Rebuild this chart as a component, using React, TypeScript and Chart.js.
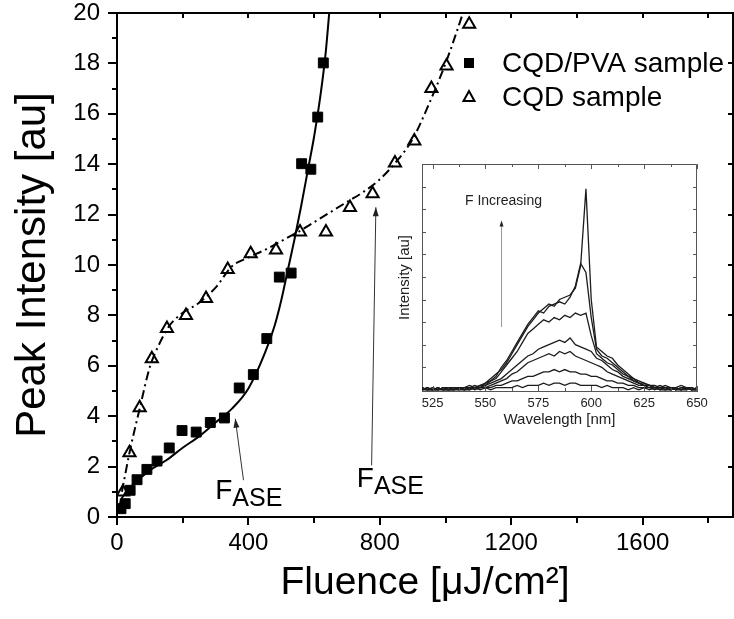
import React, { useEffect, useRef } from 'react';
import { Chart, registerables } from 'chart.js';

Chart.register(...registerables);

const FONT = '"Liberation Sans", Arial, Helvetica, sans-serif';

// ---------------- Main chart data ----------------
const seriesLabels = ['CQD/PVA sample', 'CQD sample'];

const pvaFluence = [12, 25, 40, 61, 91, 122, 159, 198, 241, 284, 327, 372, 415, 456, 494, 530, 562, 590, 611, 628];
const pvaIntensity = [0.33, 0.53, 1.06, 1.48, 1.89, 2.22, 2.74, 3.43, 3.37, 3.75, 3.93, 5.12, 5.65, 7.08, 9.52, 9.68, 14.02, 13.8, 15.87, 18.02];

const cqdFluence = [18, 38, 69, 106, 152, 210, 271, 337, 407, 484, 557, 636, 709, 778, 846, 905, 957, 1003, 1072];
const cqdIntensity = [0.99, 2.55, 4.34, 6.28, 7.48, 8.0, 8.67, 9.82, 10.45, 10.6, 11.31, 11.31, 12.28, 12.83, 14.05, 14.92, 17.0, 17.9, 19.55];

const pvaFitFluence = [4, 12, 25, 50, 100, 150, 200, 250, 300, 350, 400, 450, 480, 500, 520, 540, 560, 580, 600, 620, 635, 646];
const pvaFitIntensity = [0.2, 0.65, 0.95, 1.3, 1.85, 2.25, 2.75, 3.2, 3.75, 4.3, 5.1, 6.5, 7.6, 8.6, 9.8, 11.0, 12.3, 13.7, 15.1, 16.8, 18.4, 20];

const cqdFitFluence = [15, 38, 69, 100, 130, 160, 200, 250, 300, 350, 400, 450, 500, 550, 600, 650, 700, 750, 800, 850, 900, 950, 1000, 1030, 1053];
const cqdFitIntensity = [1.0, 2.55, 4.3, 5.95, 6.9, 7.6, 8.1, 8.5, 9.1, 9.95, 10.3, 10.6, 10.95, 11.3, 11.7, 12.1, 12.5, 12.9, 13.4, 14.1, 15.0, 16.4, 18.0, 19.1, 20];

const xTickLabels = [0, 400, 800, 1200, 1600];
const yTickLabels = [0, 2, 4, 6, 8, 10, 12, 14, 16, 18, 20];
const xTickMarks = [0, 200, 400, 600, 800, 1000, 1200, 1400, 1600, 1800];
const yTickMarks = [0, 1, 2, 3, 4, 5, 6, 7, 8, 9, 10, 11, 12, 13, 14, 15, 16, 17, 18, 19, 20];

// annotation anchors (data space)
const faseLabels = [
  { fx: 299, fy: 0.73, tailX: 385, tailY: 1.46, headX: 360, headY: 3.9 },
  { fx: 730, fy: 1.19, tailX: 775, tailY: 2.05, headX: 788, headY: 12.29 },
];

// ---------------- Inset data ----------------
const wavelength = [520, 522.5, 525, 527.5, 530, 532.5, 535, 537.5, 540, 542.5, 545, 547.5, 550, 552.5, 555, 557.5, 560, 562.5, 565, 567.5, 570, 572.5, 575, 577.5, 580, 582.5, 585, 587.5, 590, 592.5, 595, 597.5, 600, 602.5, 605, 607.5, 610, 612.5, 615, 617.5, 620, 622.5, 625, 627.5, 630, 632.5, 635, 637.5, 640, 642.5, 645, 647.5, 650];

const spectrum1 = [1, 0, 1, 0, 1, 1, 0, 1, 1, 2, 1, 2, 3, 5, 7, 9, 12, 16, 20, 24, 28, 31, 34, 36, 38, 37, 40, 41, 42, 45, 55, 89, 40, 19, 17, 15, 14, 11, 9, 7, 5, 4, 3, 2, 2, 1, 2, 1, 1, 2, 1, 0, 1];
const spectrum2 = [0, 1, 0, 1, 0, 1, 1, 0, 1, 1, 2, 1, 3, 4, 6, 10, 13, 17, 21, 25, 29, 32, 35, 34, 37, 38, 39, 38, 41, 46, 56, 52, 32, 18, 15, 14, 12, 10, 8, 6, 5, 3, 3, 2, 1, 2, 1, 1, 0, 1, 1, 1, 0];
const spectrum3 = [1, 0, 0, 1, 0, 0, 1, 1, 0, 1, 1, 2, 2, 4, 5, 8, 11, 14, 17, 21, 25, 27, 29, 31, 30, 32, 31, 33, 32, 34, 33, 34, 24, 16, 14, 12, 11, 9, 7, 6, 4, 3, 2, 2, 1, 1, 1, 0, 1, 0, 1, 0, 1];
const spectrum4 = [0, 1, 0, 0, 1, 0, 0, 1, 0, 1, 1, 1, 2, 3, 4, 5, 7, 9, 11, 13, 15, 16, 18, 19, 20, 21, 22, 21, 23, 20, 19, 18, 17, 14, 13, 11, 9, 8, 6, 5, 4, 3, 2, 2, 1, 1, 0, 1, 0, 1, 0, 1, 0];
const spectrum5 = [0, 0, 1, 0, 0, 1, 0, 0, 1, 0, 1, 1, 1, 2, 3, 4, 5, 7, 8, 10, 12, 13, 14, 15, 16, 15, 17, 16, 17, 15, 14, 13, 12, 11, 10, 8, 7, 6, 5, 4, 3, 2, 2, 1, 1, 0, 1, 0, 1, 0, 0, 1, 0];
const spectrum6 = [1, 0, 0, 1, 0, 0, 1, 0, 0, 1, 0, 1, 1, 1, 2, 2, 3, 4, 4, 5, 6, 6, 7, 8, 8, 9, 8, 9, 8, 8, 7, 7, 6, 6, 5, 4, 4, 3, 3, 2, 2, 1, 1, 1, 0, 1, 0, 0, 1, 0, 1, 0, 0];
const spectrum7 = [0, 1, 0, 0, 1, 0, 0, 1, 0, 0, 1, 0, 1, 0, 1, 1, 1, 1, 2, 1, 2, 2, 2, 3, 2, 3, 3, 2, 3, 3, 2, 2, 2, 2, 1, 2, 1, 1, 1, 0, 1, 0, 1, 0, 1, 0, 0, 1, 0, 0, 1, 0, 0];
const spectra = [spectrum1, spectrum2, spectrum3, spectrum4, spectrum5, spectrum6, spectrum7];

const insetTickLabels = [525, 550, 575, 600, 625, 650];
const insetXTickMarks = [525, 537.5, 550, 562.5, 575, 587.5, 600, 612.5, 625, 637.5, 650];
const insetYTickMarks = [10, 20, 30, 40, 50, 60, 70, 80, 90];
const insetArrow = { x: 557.6, fromY: 27.8, toY: 75, textX: 540.3, textY: 83.4 };

function pts(xs: number[], ys: number[]) {
  return xs.map((x, i) => ({ x, y: ys[i] }));
}

function arrowHead(ctx: CanvasRenderingContext2D, x1: number, y1: number, x2: number, y2: number, len: number, half: number) {
  const ang = Math.atan2(y2 - y1, x2 - x1);
  ctx.beginPath();
  ctx.moveTo(x2, y2);
  ctx.lineTo(x2 - len * Math.cos(ang) + half * Math.sin(ang), y2 - len * Math.sin(ang) - half * Math.cos(ang));
  ctx.lineTo(x2 - len * Math.cos(ang) - half * Math.sin(ang), y2 - len * Math.sin(ang) + half * Math.cos(ang));
  ctx.closePath();
  ctx.fill();
}

const mainDecor = {
  id: 'mainDecor',
  afterDraw(chart: any) {
    const { ctx, chartArea: a, scales } = chart;
    const x = scales.x;
    const y = scales.y;
    ctx.save();
    ctx.strokeStyle = '#000';
    ctx.lineWidth = 2;
    ctx.beginPath();
    ctx.moveTo(a.left, a.top);
    ctx.lineTo(a.right, a.top);
    ctx.lineTo(a.right, a.bottom);
    ctx.stroke();
    ctx.beginPath();
    xTickMarks.forEach((v) => {
      const px = Math.round(x.getPixelForValue(v));
      const major = xTickLabels.includes(v);
      ctx.moveTo(px, a.bottom);
      ctx.lineTo(px, a.bottom + (major ? 8 : 6));
      ctx.moveTo(px, a.top);
      ctx.lineTo(px, a.top + 5);
    });
    yTickMarks.forEach((v) => {
      const py = Math.round(y.getPixelForValue(v));
      const major = yTickLabels.includes(v);
      ctx.moveTo(a.left, py);
      ctx.lineTo(a.left - (major ? 9 : 5), py);
      if (major) {
        ctx.moveTo(a.right, py);
        ctx.lineTo(a.right - 5, py);
      }
    });
    ctx.stroke();

    // F_ASE annotations
    ctx.strokeStyle = '#333';
    ctx.lineWidth = 1;
    faseLabels.forEach((f) => {
      const tx = x.getPixelForValue(f.tailX);
      const ty = y.getPixelForValue(f.tailY);
      const hx = x.getPixelForValue(f.headX);
      const hy = y.getPixelForValue(f.headY);
      ctx.beginPath();
      ctx.moveTo(tx, ty);
      ctx.lineTo(hx, hy);
      ctx.stroke();
      ctx.fillStyle = '#222';
      arrowHead(ctx, tx, ty, hx, hy, 9, 3);
      const lx = x.getPixelForValue(f.fx);
      const ly = y.getPixelForValue(f.fy);
      ctx.fillStyle = '#000';
      ctx.textAlign = 'left';
      ctx.textBaseline = 'alphabetic';
      ctx.font = `28px ${FONT}`;
      ctx.fillText('F', lx, ly);
      const fw = ctx.measureText('F').width;
      ctx.font = `25px ${FONT}`;
      ctx.fillText('ASE', lx + fw, ly + 7);
    });

    // legend
    const lgX = a.right - 264;
    const rows = [a.top + 50, a.top + 84];
    ctx.font = `28px ${FONT}`;
    ctx.textBaseline = 'middle';
    ctx.textAlign = 'left';
    ctx.fillStyle = '#000';
    ctx.fillRect(lgX - 5, rows[0] - 5, 10, 10);
    ctx.beginPath();
    ctx.moveTo(lgX, rows[1] - 6);
    ctx.lineTo(lgX + 5.5, rows[1] + 4);
    ctx.lineTo(lgX - 5.5, rows[1] + 4);
    ctx.closePath();
    ctx.fillStyle = '#fff';
    ctx.fill();
    ctx.strokeStyle = '#000';
    ctx.lineWidth = 2;
    ctx.stroke();
    ctx.fillStyle = '#000';
    ctx.fillText(seriesLabels[0], lgX + 33, rows[0] + 1);
    ctx.fillText(seriesLabels[1], lgX + 33, rows[1] + 1);
    ctx.restore();
  },
};

const insetDecor = {
  id: 'insetDecor',
  afterDraw(chart: any) {
    const { ctx, chartArea: a, scales } = chart;
    const x = scales.x;
    const y = scales.y;
    ctx.save();
    ctx.strokeStyle = '#555';
    ctx.lineWidth = 1;
    ctx.beginPath();
    ctx.moveTo(a.left, a.top + 0.5);
    ctx.lineTo(a.right - 0.5, a.top + 0.5);
    ctx.lineTo(a.right - 0.5, a.bottom);
    ctx.stroke();
    ctx.beginPath();
    insetXTickMarks.forEach((v) => {
      const px = Math.round(x.getPixelForValue(v)) + 0.5;
      const major = insetTickLabels.includes(v);
      ctx.moveTo(px, a.bottom);
      ctx.lineTo(px, a.bottom - (major ? 5 : 3));
      ctx.moveTo(px, a.top);
      ctx.lineTo(px, a.top + (major ? 5 : 3));
    });
    insetYTickMarks.forEach((v) => {
      const py = Math.round(y.getPixelForValue(v)) + 0.5;
      ctx.moveTo(a.left, py);
      ctx.lineTo(a.left + 4, py);
      ctx.moveTo(a.right, py);
      ctx.lineTo(a.right - 4, py);
    });
    ctx.stroke();
    const ax = x.getPixelForValue(insetArrow.x);
    const ay1 = y.getPixelForValue(insetArrow.fromY);
    const ay2 = y.getPixelForValue(insetArrow.toY);
    ctx.strokeStyle = '#999';
    ctx.beginPath();
    ctx.moveTo(ax, ay1);
    ctx.lineTo(ax, ay2 + 4);
    ctx.stroke();
    ctx.fillStyle = '#222';
    arrowHead(ctx, ax, ay1, ax, ay2, 6, 2);
    ctx.font = `14px ${FONT}`;
    ctx.textAlign = 'left';
    ctx.textBaseline = 'middle';
    ctx.fillStyle = '#222';
    ctx.fillText('F Increasing', x.getPixelForValue(insetArrow.textX), y.getPixelForValue(insetArrow.textY));
    ctx.restore();
  },
};

export default function App() {
  const mainRef = useRef<HTMLCanvasElement>(null);
  const insetRef = useRef<HTMLCanvasElement>(null);

  useEffect(() => {
    Chart.defaults.font.family = FONT;
    Chart.defaults.color = '#000';

    const main = new Chart(mainRef.current as HTMLCanvasElement, {
      type: 'scatter',
      data: {
        datasets: [
          {
            label: 'CQD/PVA fit',
            data: pts(pvaFitFluence, pvaFitIntensity),
            showLine: true,
            borderColor: '#000',
            borderWidth: 2,
            pointRadius: 0,
            cubicInterpolationMode: 'monotone',
            fill: false,
          },
          {
            label: 'CQD fit',
            data: pts(cqdFitFluence, cqdFitIntensity),
            showLine: true,
            borderColor: '#000',
            borderWidth: 2,
            borderDash: [9, 4, 2, 4],
            pointRadius: 0,
            cubicInterpolationMode: 'monotone',
            fill: false,
          },
          {
            label: seriesLabels[0],
            data: pts(pvaFluence, pvaIntensity),
            showLine: false,
            pointStyle: 'rect',
            pointRadius: 7,
            backgroundColor: '#000',
            borderColor: '#000',
            borderWidth: 1,
          },
          {
            label: seriesLabels[1],
            data: pts(cqdFluence, cqdIntensity),
            showLine: false,
            pointStyle: 'triangle',
            pointRadius: 7,
            backgroundColor: '#fff',
            borderColor: '#000',
            borderWidth: 2,
          },
        ],
      } as any,
      options: {
        animation: false,
        responsive: false,
        layout: { autoPadding: false, padding: { top: 13, right: 1, left: 0, bottom: 0 } },
        plugins: { legend: { display: false }, tooltip: { enabled: false } },
        scales: {
          x: {
            type: 'linear',
            min: 0,
            max: 1875,
            afterBuildTicks: (s: any) => {
              s.ticks = xTickLabels.map((v) => ({ value: v }));
            },
            afterFit: (s: any) => {
              s.height = 102;
              s.paddingLeft = 0;
              s.paddingRight = 0;
            },
            ticks: {
              font: { size: 24, family: FONT },
              color: '#000',
              padding: 4,
              maxRotation: 0,
              autoSkip: false,
              callback: (v: any) => String(v),
            },
            grid: { display: false, drawTicks: true, tickLength: 8 },
            border: { display: true, color: '#000', width: 2 },
            title: {
              display: true,
              text: 'Fluence [μJ/cm²]',
              font: { size: 39, family: FONT },
              color: '#000',
              padding: { top: 0, bottom: 12 },
            },
          },
          y: {
            type: 'linear',
            min: 0,
            max: 20,
            afterBuildTicks: (s: any) => {
              s.ticks = yTickLabels.map((v) => ({ value: v }));
            },
            afterFit: (s: any) => {
              s.width = 117;
              s.paddingTop = 0;
              s.paddingBottom = 0;
            },
            ticks: {
              font: { size: 24, family: FONT },
              color: '#000',
              padding: 8,
              autoSkip: false,
              callback: (v: any) => String(v),
            },
            grid: { display: false, drawTicks: true, tickLength: 9 },
            border: { display: true, color: '#000', width: 2 },
            title: {
              display: true,
              text: 'Peak Intensity [au]',
              font: { size: 42, family: FONT },
              color: '#000',
              padding: { top: 8, bottom: 0 },
            },
          },
        },
      } as any,
      plugins: [mainDecor],
    });

    const inset = new Chart(insetRef.current as HTMLCanvasElement, {
      type: 'scatter',
      data: {
        datasets: spectra.map((s, i) => ({
          label: `spectrum ${i + 1}`,
          data: pts(wavelength, s),
          showLine: true,
          borderColor: '#1c1c1c',
          borderWidth: 1.3,
          pointRadius: 0,
          fill: false,
        })),
      } as any,
      options: {
        animation: false,
        responsive: false,
        layout: { autoPadding: false, padding: { top: 14, right: 13, left: 0, bottom: 0 } },
        plugins: { legend: { display: false }, tooltip: { enabled: false } },
        scales: {
          x: {
            type: 'linear',
            min: 520,
            max: 650,
            afterBuildTicks: (s: any) => {
              s.ticks = insetTickLabels.map((v) => ({ value: v }));
            },
            afterFit: (s: any) => {
              s.height = 44;
              s.paddingLeft = 0;
              s.paddingRight = 0;
            },
            ticks: {
              font: { size: 13, family: FONT },
              color: '#222',
              padding: 5,
              maxRotation: 0,
              autoSkip: false,
              callback: (v: any) => String(v),
            },
            grid: { display: false, drawTicks: false },
            border: { display: true, color: '#555', width: 1 },
            title: {
              display: true,
              text: 'Wavelength [nm]',
              font: { size: 15, family: FONT },
              color: '#222',
              padding: { top: 0, bottom: 6 },
            },
          },
          y: {
            type: 'linear',
            min: -0.5,
            max: 100,
            afterFit: (s: any) => {
              s.width = 32;
              s.paddingTop = 0;
              s.paddingBottom = 0;
            },
            ticks: { display: false },
            grid: { display: false, drawTicks: false },
            border: { display: true, color: '#555', width: 1 },
            title: {
              display: true,
              text: 'Intensity [au]',
              font: { size: 15, family: FONT },
              color: '#222',
              padding: { top: 6, bottom: 0 },
            },
          },
        },
      } as any,
      plugins: [insetDecor],
    });

    return () => {
      main.destroy();
      inset.destroy();
    };
  }, []);

  return (
    <div style={{ position: 'absolute', left: 0, top: 0, width: 734, height: 619, background: '#fff', overflow: 'hidden' }}>
      <canvas ref={mainRef} width={734} height={619} style={{ position: 'absolute', left: 0, top: 0, width: 734, height: 619 }} />
      <canvas ref={insetRef} width={320} height={285} style={{ position: 'absolute', left: 390, top: 150, width: 320, height: 285 }} />
    </div>
  );
}
